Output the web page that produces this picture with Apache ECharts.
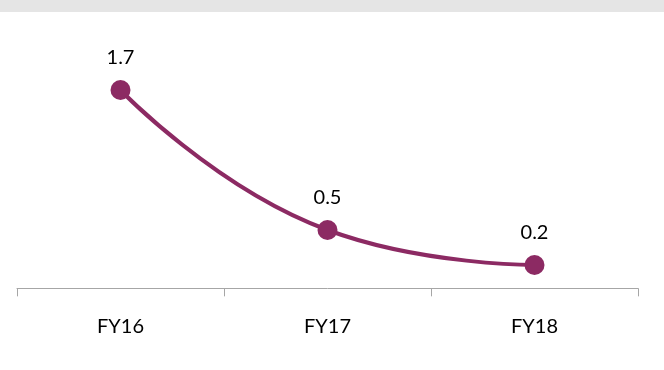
<!DOCTYPE html>
<html>
<head>
<meta charset="utf-8">
<script src="https://cdn.jsdelivr.net/npm/echarts@6/dist/echarts.min.js"></script>
<style>
  html, body { margin: 0; padding: 0; background: #fff; }
  #chart { width: 664px; height: 370px; }
</style>
</head>
<body>
<div id="chart"></div>
<script>
// Fiscal years and their values
const categories = ['FY16', 'FY17', 'FY18'];
const values = [1.7, 0.5, 0.2];

const lineColor = '#8c2a63';
const fontFamily = 'Lato, "Open Sans", sans-serif';

const chart = echarts.init(document.getElementById('chart'), null, { renderer: 'canvas' });

chart.setOption({
  animation: false,
  backgroundColor: '#ffffff',
  graphic: [{
    type: 'rect',
    left: 0, top: 0,
    shape: { width: 664, height: 12 },
    style: { fill: '#e5e5e5' },
    silent: true
  }],
  grid: { left: 17, right: 26, top: 55, bottom: 77 },
  xAxis: {
    type: 'category',
    data: categories,
    boundaryGap: true,
    axisLine: { show: true, lineStyle: { color: '#a6a6a6', width: 1 } },
    axisTick: { show: true, length: 8, inside: false, lineStyle: { color: '#a6a6a6' } },
    axisLabel: { color: '#000', fontSize: 20, fontFamily: fontFamily, margin: 24 },
    splitLine: { show: false }
  },
  yAxis: {
    type: 'value',
    min: -0.04,
    max: 2.0,
    show: false,
    splitLine: { show: false }
  },
  series: [{
    type: 'line',
    data: values,
    smooth: 0.5,
    clip: false,
    symbol: 'circle',
    symbolSize: 20,
    itemStyle: { color: lineColor },
    lineStyle: { color: lineColor, width: 4 },
    label: {
      show: true,
      position: 'top',
      distance: 12,
      color: '#000',
      fontSize: 20,
      fontFamily: fontFamily,
      formatter: p => p.value.toFixed(1)
    }
  }]
});
</script>
</body>
</html>
